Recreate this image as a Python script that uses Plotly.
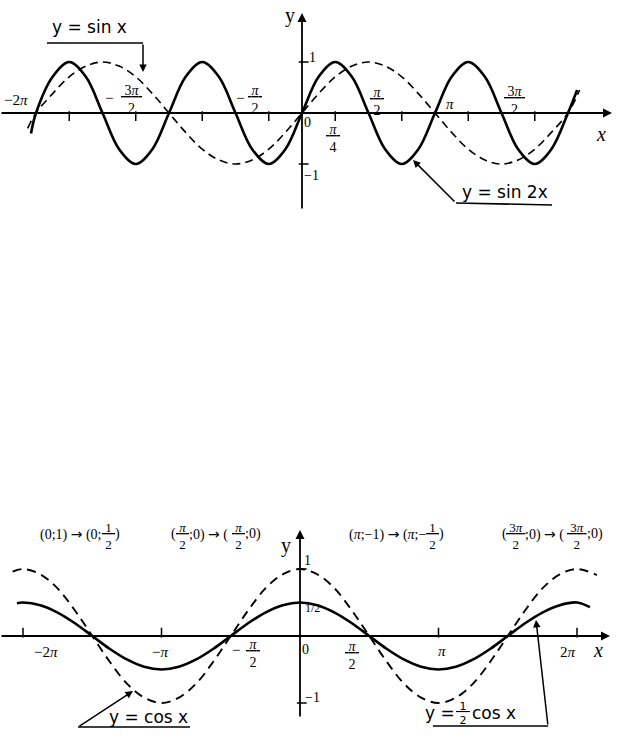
import plotly.graph_objects as go
import numpy as np

W, H = 624, 744
PI = np.pi

# ---------------- data (x in units of pi/8) ----------------
# top chart: y = sin x (dashed) and y = sin 2x (solid)
top_k_sin = [-16.5] + list(range(-16, 17)) + [16.7]
top_sin = [-0.30,
           0, 0.38, 0.71, 0.92, 1, 0.92, 0.71, 0.38, 0, -0.38, -0.71, -0.92, -1, -0.92, -0.71, -0.38,
           0, 0.38, 0.71, 0.92, 1, 0.92, 0.71, 0.38, 0, -0.38, -0.71, -0.92, -1, -0.92, -0.71, -0.38,
           0, 0.45]
top_k_sin2 = [-16.3] + list(range(-16, 17)) + [16.55]
top_sin2 = [-0.40,
            0, 0.71, 1, 0.71, 0, -0.71, -1, -0.71, 0, 0.71, 1, 0.71, 0, -0.71, -1, -0.71,
            0, 0.71, 1, 0.71, 0, -0.71, -1, -0.71, 0, 0.71, 1, 0.71, 0, -0.71, -1, -0.71,
            0, 0.45]
top_tick_k = [-14, -10, -6, -2, 2, 6, 10, 14]
top_ytick = [1, -1]

# bottom chart: y = cos x (dashed) and y = 1/2 cos x (solid)
bot_k_cos = [-16.6] + list(range(-16, 17)) + [17.15]
bot_cos = [0.96,
           1, 0.92, 0.71, 0.38, 0, -0.38, -0.71, -0.92, -1, -0.92, -0.71, -0.38, 0, 0.38, 0.71, 0.92,
           1, 0.92, 0.71, 0.38, 0, -0.38, -0.71, -0.92, -1, -0.92, -0.71, -0.38, 0, 0.38, 0.71, 0.92,
           1, 0.91]
bot_k_half = [-16.35] + list(range(-16, 17)) + [16.75]
bot_half = [0.49,
            0.5, 0.46, 0.35, 0.19, 0, -0.19, -0.35, -0.46, -0.5, -0.46, -0.35, -0.19, 0, 0.19, 0.35, 0.46,
            0.5, 0.46, 0.35, 0.19, 0, -0.19, -0.35, -0.46, -0.5, -0.46, -0.35, -0.19, 0, 0.19, 0.35, 0.46,
            0.5, 0.43]
bot_tick_k = [-16, -8, 8, 16]
bot_ytick = [1, -1]

# ---------------- layout geometry (pixels) ----------------
T_X0, T_SX, T_Y0, T_SY, T_TOP, T_BOT = 302, 133 / PI, 113, 51, 0, 230
B_X0, B_SX, B_Y0, B_SY, B_TOP, B_BOT = 300, 138.5 / PI, 636, 67, 490, 744


def rad(ks):
    return [k * PI / 8 for k in ks]


def P(x, y):
    return x / W, 1 - y / H


fig = go.Figure()

solid = dict(color="black", width=2.6)
dashed = dict(color="black", width=1.6, dash="8px,5px")

fig.add_trace(go.Scatter(x=rad(top_k_sin), y=top_sin, mode="lines", line=dashed,
                         line_shape="spline", xaxis="x", yaxis="y"))
fig.add_trace(go.Scatter(x=rad(top_k_sin2), y=top_sin2, mode="lines", line=solid,
                         line_shape="spline", xaxis="x", yaxis="y"))
fig.add_trace(go.Scatter(x=rad(top_tick_k), y=[-0.06] * len(top_tick_k), mode="markers",
                         marker=dict(symbol="line-ns", size=7, line=dict(width=1.5, color="black")),
                         xaxis="x", yaxis="y"))
fig.add_trace(go.Scatter(x=[0.04] * len(top_ytick), y=top_ytick, mode="markers",
                         marker=dict(symbol="line-ew", size=7, line=dict(width=1.5, color="black")),
                         xaxis="x", yaxis="y"))

fig.add_trace(go.Scatter(x=rad(bot_k_cos), y=bot_cos, mode="lines",
                         line=dict(color="black", width=1.9, dash="9px,6px"),
                         line_shape="spline", xaxis="x2", yaxis="y2"))
fig.add_trace(go.Scatter(x=rad(bot_k_half), y=bot_half, mode="lines", line=solid,
                         line_shape="spline", xaxis="x2", yaxis="y2"))
fig.add_trace(go.Scatter(x=rad(bot_tick_k), y=[0.05] * len(bot_tick_k), mode="markers",
                         marker=dict(symbol="line-ns", size=7, line=dict(width=1.5, color="black")),
                         xaxis="x2", yaxis="y2"))
fig.add_trace(go.Scatter(x=[0.04] * len(bot_ytick), y=bot_ytick, mode="markers",
                         marker=dict(symbol="line-ew", size=7, line=dict(width=1.5, color="black")),
                         xaxis="x2", yaxis="y2"))

ann = []


def axis_arrow(xref, yref, x, y, ax, ay):
    ann.append(dict(xref=xref, yref=yref, axref=xref, ayref=yref, x=x, y=y, ax=ax, ay=ay,
                    text="", showarrow=True, arrowhead=2, arrowsize=1, arrowwidth=1.8,
                    arrowcolor="black"))


# top axes
axis_arrow("x", "y", (612 - T_X0) / T_SX, 0, (0 - T_X0) / T_SX, 0)
axis_arrow("x", "y", 0, (T_Y0 - 13) / T_SY, 0, (T_Y0 - 210) / T_SY)
# bottom axes
axis_arrow("x2", "y2", (610 - B_X0) / B_SX, 0, (0 - B_X0) / B_SX, 0)
axis_arrow("x2", "y2", 0, (B_Y0 - 530) / B_SY, 0, (B_Y0 - 718) / B_SY)

HAND = "DejaVu Sans"
MATH = "Liberation Serif"


def txt(text, x, y, size=14, family=MATH, xanchor="center", yanchor="middle"):
    px, py = P(x, y)
    ann.append(dict(xref="paper", yref="paper", x=px, y=py, text=text, showarrow=False,
                    xanchor=xanchor, yanchor=yanchor,
                    font=dict(family=family, size=size, color="black")))


def frac(n, d):
    return f"<u>&nbsp;{n}&nbsp;</u><br>{d}"


def pointer(hx, hy, tx, ty):
    px, py = P(hx, hy)
    ann.append(dict(xref="paper", yref="paper", x=px, y=py, ax=tx - hx, ay=ty - hy,
                    text="", showarrow=True, arrowhead=2, arrowsize=1, arrowwidth=1.5,
                    arrowcolor="black"))


shapes = []


def seg(x0, y0, x1, y1):
    a, b = P(x0, y0)
    c, d = P(x1, y1)
    shapes.append(dict(type="line", xref="paper", yref="paper", x0=a, y0=b, x1=c, y1=d,
                       line=dict(color="black", width=1.5)))


PIs = "<i>π</i>"
ARR = '<span style="font-family:DejaVu Sans">→</span>'

# ---- top chart labels ----
txt("y", 290, 16, 20, MATH)
txt("<i>x</i>", 601, 134, 20, MATH)
txt("−2" + PIs, 16, 100, 15)
txt("−", 109, 98, 15)
txt(frac("3" + PIs, "2"), 131, 99, 14)
txt("−", 240, 98, 15)
txt(frac(PIs, "2"), 255, 99, 14)
txt("0", 307, 123, 14)
txt(frac(PIs, "4"), 333, 138, 14)
txt(frac(PIs, "2"), 377, 101, 14)
txt(PIs, 450, 104, 15)
txt(frac("3" + PIs, "2"), 514, 100, 14)
txt("1", 312, 57, 14)
txt("−1", 311, 175, 14)

txt("y = sin x", 90, 27, 17, HAND)
seg(47, 43, 143, 43)
pointer(143, 72, 143, 43)

txt("y = sin 2x", 505, 192, 17, HAND)
seg(552, 205, 456, 203)
pointer(413, 160, 456, 203)

# ---- bottom chart labels ----
L = 534
txt(f"(0;1) {ARR} (0;", 104, L, 14, xanchor="right")
txt(frac("1", "2"), 108, L + 2, 13)
txt(")", 113, L, 14, xanchor="left")

txt("(", 178, L, 14, xanchor="right")
txt(frac(PIs, "2"), 182, L + 2, 13)
txt(f";0) {ARR} (", 187, L, 14, xanchor="left")
txt(frac(PIs, "2"), 238, L + 2, 13)
txt(";0)", 243, L, 14, xanchor="left")

txt(f"({PIs};−1) {ARR} ({PIs};−", 428, L, 14, xanchor="right")
txt(frac("1", "2"), 432, L + 2, 13)
txt(")", 437, L, 14, xanchor="left")

txt("(", 509, L, 14, xanchor="right")
txt(frac("3" + PIs, "2"), 516, L + 2, 13)
txt(f";0) {ARR} (", 523, L, 14, xanchor="left")
txt(frac("3" + PIs, "2"), 577, L + 2, 13)
txt(";0)", 585, L, 14, xanchor="left")

txt("y", 286, 545, 20, MATH)
txt("<i>x</i>", 598, 650, 20, MATH)
txt("1", 307, 560, 14)
txt("1/2", 312, 608, 12)
txt("−1", 312, 697, 14)
txt("0", 305, 649, 14)
txt("−2" + PIs, 46, 652, 15)
txt("−" + PIs, 160, 652, 15)
txt("−", 236, 650, 15)
txt(frac(PIs, "2"), 253, 653, 14)
txt(frac(PIs, "2"), 352, 655, 14)
txt(PIs, 442, 651, 15)
txt("2" + PIs, 568, 652, 15)

txt("y = cos x", 148, 717, 17, HAND)
seg(78, 727, 190, 727)
pointer(133, 691, 78, 727)

txt("y =", 457, 713, 17, HAND, xanchor="right")
txt(frac("1", "2"), 463, 713, 11, HAND)
txt("cos x", 470, 713, 17, HAND, xanchor="left")
seg(433, 726, 548, 726)
pointer(536, 620, 548, 726)

fig.update_layout(
    width=W, height=H, autosize=False,
    margin=dict(l=0, r=0, t=0, b=0),
    paper_bgcolor="white", plot_bgcolor="white",
    showlegend=False,
    annotations=ann, shapes=shapes,
    xaxis=dict(domain=[0, 1], range=[(0 - T_X0) / T_SX, (W - T_X0) / T_SX], visible=False),
    yaxis=dict(domain=[1 - T_BOT / H, 1 - T_TOP / H],
               range=[(T_Y0 - T_BOT) / T_SY, (T_Y0 - T_TOP) / T_SY], visible=False),
    xaxis2=dict(domain=[0, 1], range=[(0 - B_X0) / B_SX, (W - B_X0) / B_SX], visible=False,
                anchor="y2"),
    yaxis2=dict(domain=[1 - B_BOT / H, 1 - B_TOP / H],
                range=[(B_Y0 - B_BOT) / B_SY, (B_Y0 - B_TOP) / B_SY], visible=False,
                anchor="x2"),
)
for t in fig.data:
    t.cliponaxis = False
    t.hoverinfo = "skip"

fig.write_html("out.html", config={"displayModeBar": False},
               post_script="document.body.style.margin='0px';")
